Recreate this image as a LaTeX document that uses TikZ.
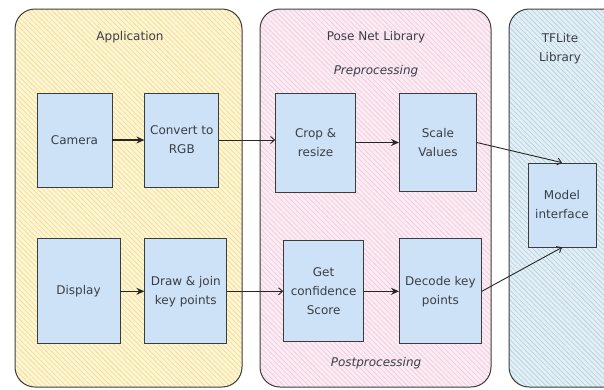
\documentclass[tikz,border=0pt]{standalone}
\usepackage{fontspec}
\setmainfont{DejaVu Sans}
\usepackage{xcolor}
\definecolor{appfill}{HTML}{FFF5D2}
\definecolor{apphatch}{HTML}{EEDB92}
\definecolor{posefill}{HTML}{FDEBF4}
\definecolor{posehatch}{HTML}{EDC9DD}
\definecolor{tflfill}{HTML}{E2EFF6}
\definecolor{tflhatch}{HTML}{B3CEDB}
\definecolor{blockblue}{HTML}{CDE2F7}
\definecolor{edgegray}{HTML}{3C3C3C}
\definecolor{textgray}{HTML}{3A3F47}
\usepackage{tikz}
\usetikzlibrary{arrows.meta, positioning, patterns.meta}
\tikzstyle{lane} = [
  rounded corners=20pt, draw=edgegray, line width=1pt,
  pattern={Lines[angle=-45, distance=3.5pt, line width=0.6pt]}
]
\tikzstyle{block} = [
  rectangle, minimum width=78pt, minimum height=96pt,
  text centered, align=center, draw=edgegray, line width=0.8pt,
  fill=blockblue, text=textgray, inner sep=2pt
]
\tikzstyle{title} = [text=textgray, align=center]
\tikzstyle{arrow} = [
  -{Stealth[length=8pt, width=7pt]}, line width=1.3pt, color=black!85
]
\tikzstyle{crossarrow} = [
  -{Straight Barb[length=4pt, width=7pt]}, line width=0.9pt, color=black!85
]

\begin{document}
\begin{tikzpicture}[x=1pt, y=-1pt,
                    every node/.style={font=\fontsize{12}{19}\selectfont}]
  \useasboundingbox (0,0) rectangle (604,389);

  % ── Lanes ─────────────────────────────────────────────
  \draw[lane, preaction={fill=appfill}, pattern color=apphatch]
    (15,9) rectangle (242,387);
  \draw[lane, preaction={fill=posefill}, pattern color=posehatch]
    (260,9) rectangle (491,387);
  \draw[lane, preaction={fill=tflfill}, pattern color=tflhatch]
    (509,9) rectangle (640,387);

  \node[title] (apptitle)  at (130,37)  {Application};
  \node[title] (posetitle) at (376,37)  {Pose Net Library};
  \node[title] (tfltitle)  at (560,49)  {TFLite\\Library};
  \node[title, font=\fontsize{12}{19}\selectfont\itshape]
    (pretitle)  at (376,71)  {Preprocessing};
  \node[title, font=\fontsize{12}{19}\selectfont\itshape]
    (posttitle) at (376,363) {Postprocessing};

  % ── Input path ────────────────────────────────────────
  \node[block, minimum width=75pt, minimum height=94pt]
    (camera) at (74.5,140) {Camera};
  \node[block, minimum width=74pt, minimum height=94pt, right=32pt of camera]
    (convert) {Convert to\\RGB};
  \node[block, minimum width=80pt, minimum height=99pt,
        right=56pt of convert.east, anchor=west, yshift=-2.5pt]
    (crop) {Crop \&\\resize};
  \node[block, minimum width=77pt, minimum height=98pt, right=43pt of crop]
    (scale) {Scale\\Values};

  % ── Output path ───────────────────────────────────────
  \node[block, minimum width=83pt, minimum height=105pt,
        below=51pt of camera.south west, anchor=north west]
    (display) {Display};
  \node[block, minimum width=82pt, minimum height=105pt, right=24pt of display]
    (drawjoin) {Draw \& join\\key points};
  \node[block, minimum width=80pt, minimum height=101pt, right=56pt of drawjoin]
    (confidence) {Get\\confidence\\Score};
  \node[block, minimum width=82pt, minimum height=105pt, right=35pt of confidence]
    (decode) {Decode key\\points};

  % ── Model ─────────────────────────────────────────────
  \node[block, minimum width=68pt, minimum height=84pt]
    (model) at (562,205) {Model\\interface};

  % ── Arrows ────────────────────────────────────────────
  \draw[arrow] (camera) -- (convert);
  \draw[crossarrow] (convert.east) -- (convert.east -| crop.west);
  \draw[arrow] (crop) -- (scale);
  \draw[crossarrow] (scale.east) -- (model.north);

  \draw[arrow] (display) -- (drawjoin);
  \draw[crossarrow] (drawjoin.east) -- (drawjoin.east -| confidence.west);
  \draw[arrow] (confidence) -- (decode);
  \draw[crossarrow] (decode.east) -- (model.south);

\end{tikzpicture}
\end{document}
